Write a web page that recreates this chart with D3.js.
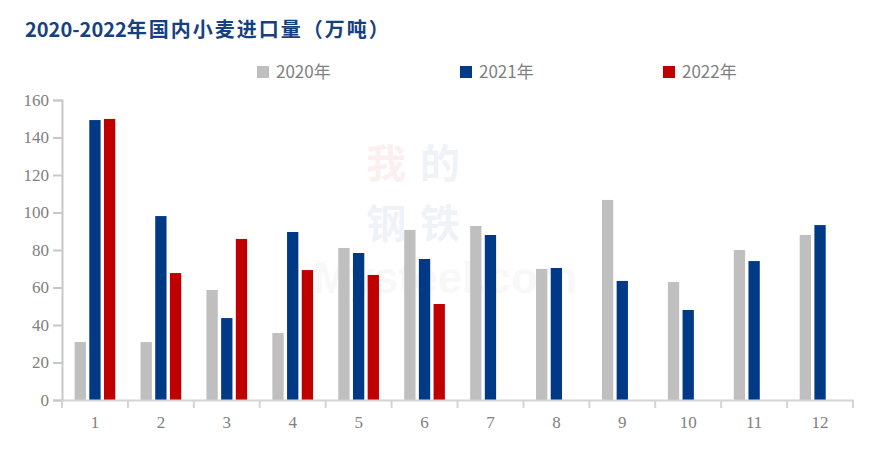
<!DOCTYPE html>
<html><head><meta charset="utf-8">
<script src="https://cdn.jsdelivr.net/npm/d3@7"></script>
<style>body{margin:0;background:#fff}svg{display:block}</style>
</head><body>
<svg id="c" width="885" height="451"></svg>
<script>
const months = ["1","2","3","4","5","6","7","8","9","10","11","12"];
const seriesNames = ["2020年","2021年","2022年"];
const colors = ["#BFBFBF","#003A86","#C00000"];
const v2020 = [30.9, 30.9, 58.7, 35.7, 81.1, 90.7, 92.8, 69.9, 106.7, 62.9, 80.0, 88.0];
const v2021 = [149.3, 98.1, 43.7, 89.6, 78.4, 75.2, 88.0, 70.4, 63.5, 48.0, 74.1, 93.3];
const v2022 = [149.9, 67.7, 85.9, 69.3, 66.7, 51.2, null, null, null, null, null, null];
const yTicks = [0,20,40,60,80,100,120,140,160];
const titleYears = "2020-2022";
const titleRest = "年国内小麦进口量（万吨）";

const series = [v2020, v2021, v2022];
const svg = d3.select("#c");
const W = 885, H = 451;
const m = {left:62, right:32, top:100, bottom:51};

// watermark
const wm = svg.append("g").attr("opacity",0.05);
wm.append("text").attr("x",445).attr("y",293).attr("text-anchor","middle")
  .attr("font-family","Arial, Liberation Sans, sans-serif").attr("font-weight","bold")
  .attr("font-size",44).attr("fill","#888").text("Mysteel.com");
const wmc = svg.append("g").attr("opacity",0.07);
[["我",386,178,"#e03030"],["的",440,178,"#3050a0"],["钢",386,238,"#3050a0"],["铁",440,238,"#3050a0"]].forEach(d=>{
  wmc.append("text").attr("x",d[1]).attr("y",d[2]).attr("text-anchor","middle")
    .attr("font-family","Noto Sans CJK SC").attr("font-weight","bold")
    .attr("font-size",40).attr("fill",d[3]).text(d[0]);
});

const x = d3.scaleBand().domain(months).range([m.left, W - m.right]).paddingInner(0).paddingOuter(0);
const xs = d3.scaleBand().domain(d3.range(3)).range([0, x.bandwidth()]).paddingInner(0.23).paddingOuter(0.86);
const y = d3.scaleLinear().domain([0,160]).range([H - m.bottom, m.top]);

// bars
series.forEach((vals, si) => {
  svg.append("g").selectAll("rect").data(months.map((mo,i)=>({mo, v: vals[i]})).filter(d=>d.v!=null))
    .join("rect")
    .attr("x", d => x(d.mo) + xs(si))
    .attr("width", xs.bandwidth())
    .attr("y", d => y(d.v))
    .attr("height", d => y(0) - y(d.v))
    .attr("fill", colors[si]);
});

// y axis
const yAxis = svg.append("g").attr("transform",`translate(${m.left},0)`)
  .call(d3.axisLeft(y).tickValues(yTicks).tickSize(9).tickPadding(4).tickFormat(d3.format("d")));
yAxis.select(".domain").attr("stroke","#C8C8C8").attr("stroke-width",2);
yAxis.selectAll(".tick line").attr("stroke","#C8C8C8").attr("stroke-width",2);
yAxis.selectAll(".tick text").attr("fill","#808080").attr("font-size",17)
  .attr("font-family","Liberation Serif, Times New Roman, serif");

// x axis
const xAxis = svg.append("g").attr("transform",`translate(0,${y(0)})`)
  .call(d3.axisBottom(x).tickSize(0).tickPadding(16));
xAxis.select(".domain").attr("stroke","#D4D4D4").attr("stroke-width",2);
xAxis.selectAll(".tick text").attr("fill","#808080").attr("font-size",17)
  .attr("font-family","Liberation Serif, Times New Roman, serif");
const bounds = months.map(mo => x(mo)).concat([x(months[months.length-1]) + x.bandwidth()]);
svg.append("g").selectAll("line").data(bounds).join("line")
  .attr("x1", d=>d).attr("x2", d=>d).attr("y1", y(0)).attr("y2", y(0)+8)
  .attr("stroke","#D4D4D4").attr("stroke-width",2);

// title
const t = svg.append("text").attr("x",25).attr("y",37)
  .attr("font-family","Noto Sans CJK SC, sans-serif").attr("font-weight","bold")
  .attr("font-size",20).attr("fill","#17407F");
t.append("tspan").text(titleYears);
t.append("tspan").attr("letter-spacing",2).text(titleRest);

// legend
const legX = [257, 460, 663];
const lg = svg.append("g");
seriesNames.forEach((n,i)=>{
  lg.append("rect").attr("x",legX[i]).attr("y",66).attr("width",12).attr("height",12).attr("fill",colors[i]);
  lg.append("text").attr("x",legX[i]+19).attr("y",78).attr("font-size",17)
    .attr("font-family","Noto Sans CJK SC, sans-serif").attr("fill","#808080").text(n);
});
</script>
</body></html>
